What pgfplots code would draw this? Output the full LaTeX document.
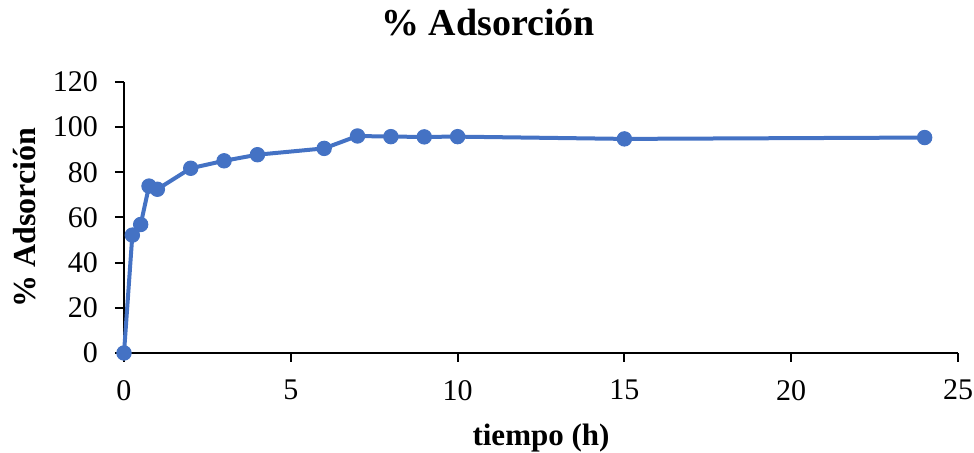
\documentclass[border=0pt]{standalone}
\usepackage{fontspec}
\setmainfont{Liberation Serif}
\usepackage{pgfplots}
\pgfplotsset{compat=1.18}
\usetikzlibrary{calc}
\definecolor{xlblue}{HTML}{4472C4}
\begin{document}
\begin{tikzpicture}
\begin{axis}[
  scale only axis,
  width=417pt, height=135.5pt,
  xmin=0, xmax=25, ymin=0, ymax=120,
  xtick={0,5,...,25}, ytick={0,20,...,120},
  axis x line=bottom, axis y line=left,
  axis line style={-, line width=1pt, black},
  tick style={line width=1pt, black},
  major tick length=4.5pt,
  tick align=outside,
  clip=false,
  /pgf/number format/assume math mode=true,
  tick label style={font=\fontsize{15}{16}\selectfont},
  yticklabel style={xshift=-5pt},
  xticklabel style={yshift=-5.5pt},
  title={\textbf{\% Adsorción}},
  title style={font=\fontsize{19}{21}\selectfont, at={(rel axis cs:0.4365,1)}, anchor=center, yshift=23.5pt},
  xlabel={\textbf{tiempo (h)}},
  xlabel style={font=\fontsize{15.5}{18}\selectfont, at={(rel axis cs:0.5,0)}, anchor=center, yshift=-42.5pt},
  ylabel={\textbf{\% Adsorción}},
  ylabel style={font=\fontsize{16}{18}\selectfont, at={(rel axis cs:0,0.5)}, anchor=center, yshift=49.5pt},
]
\addplot[color=xlblue, line width=2pt, mark=*, mark size=3.6pt, mark options={fill=xlblue, draw=xlblue, line width=0.5pt}] coordinates {
(0,0) (0.25,52.2) (0.5,56.9) (0.75,73.9) (1,72.5) (2,81.8) (3,85.1) (4,87.8) (6,90.6) (7,96.1) (8,95.8) (9,95.7) (10,95.8) (15,94.8) (24,95.4)
};
\coordinate (bl) at (rel axis cs:0,0);
\coordinate (tr) at (rel axis cs:1,1);
\end{axis}
\pgfresetboundingbox
\path ($(bl)+(-62pt,-50pt)$) rectangle ($(tr)+(8pt,41pt)$);
\end{tikzpicture}
\end{document}
